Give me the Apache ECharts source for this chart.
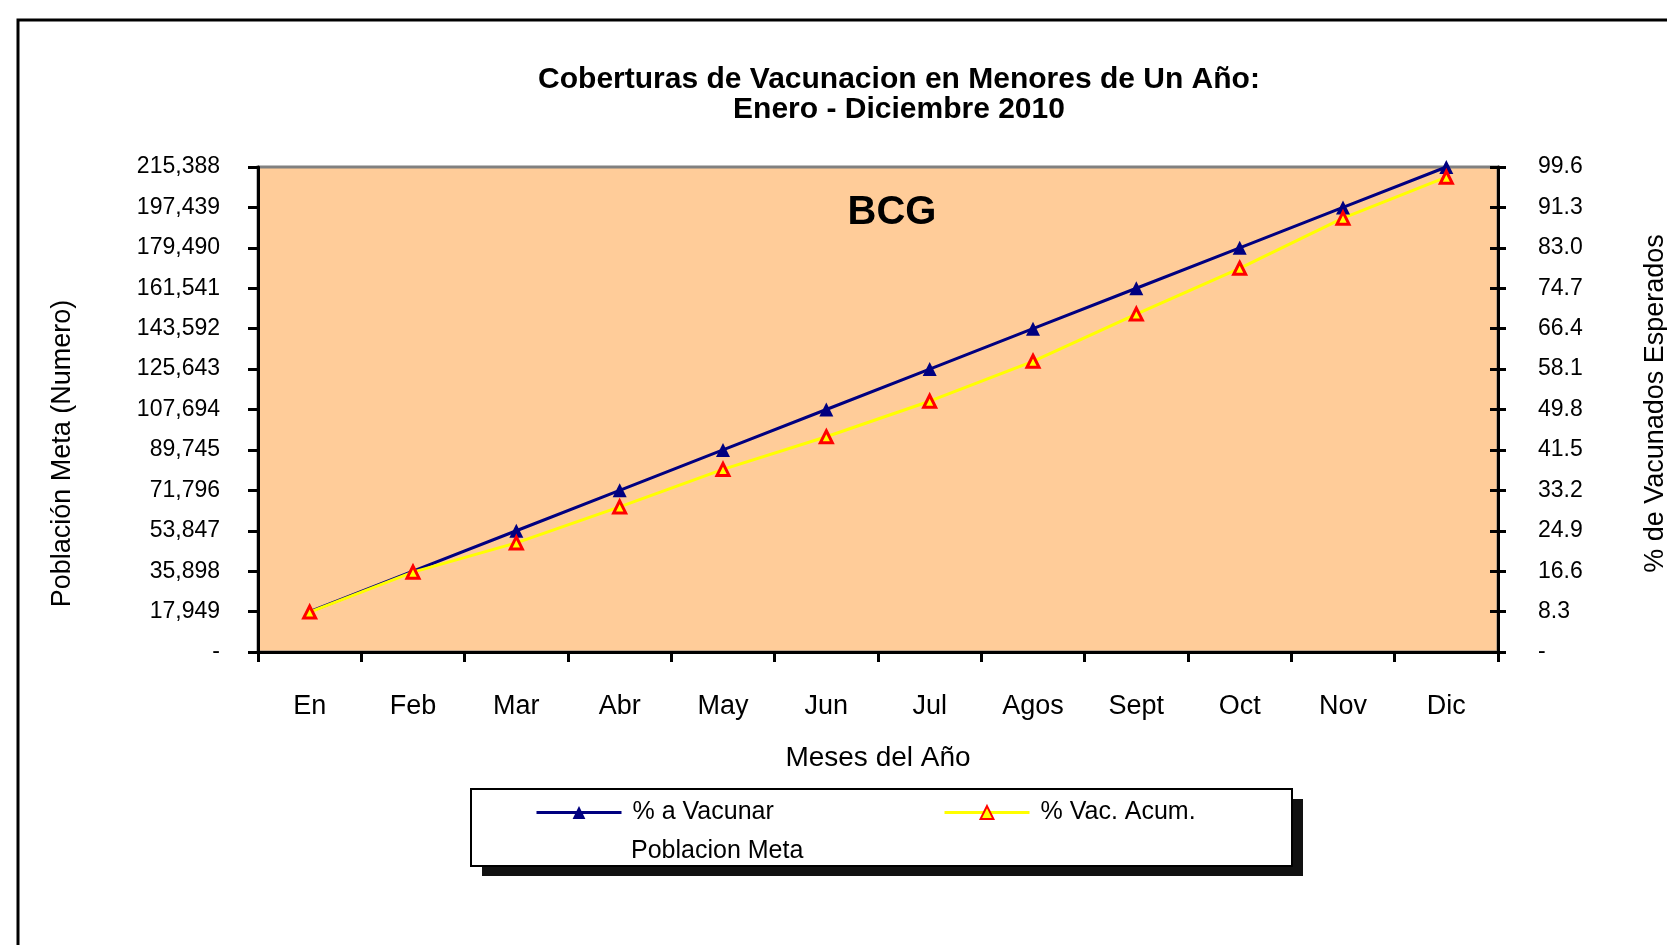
<!DOCTYPE html>
<html>
<head>
<meta charset="utf-8">
<title>Coberturas de Vacunacion BCG 2010</title>
<script src="https://cdn.jsdelivr.net/npm/echarts@6/dist/echarts.min.js"></script>
<style>
  html, body { margin: 0; padding: 0; background: #fff; }
  #chart { width: 1667px; height: 945px; }
</style>
</head>
<body>
<div id="chart"></div>
<script>
  // datos
  var meses = ['En', 'Feb', 'Mar', 'Abr', 'May', 'Jun', 'Jul', 'Agos', 'Sept', 'Oct', 'Nov', 'Dic']
  var aVacunar = [8.3, 16.6, 24.9, 33.2, 41.5, 49.8, 58.1, 66.4, 74.7, 83.0, 91.3, 99.6]
  var vacAcum = [8.2, 16.4, 22.4, 29.8, 37.5, 44.2, 51.5, 59.7, 69.4, 78.8, 89.1, 97.5]
  var poblacionMeta = [17949, 35898, 53847, 71796, 89745, 107694, 125643, 143592, 161541, 179490, 197439, 215388]
  var pobMax = 215388
  var pobInterval = 17949
  var pctMax = 99.6
  var pctInterval = 8.3

  var fuente = 'Liberation Sans, Arial, sans-serif'

  var chart = echarts.init(document.getElementById('chart'))

  var legendText = { fontFamily: fuente, fontSize: 25, color: '#000', padding: [0, 0, 0, 6] }

  var option = {
    backgroundColor: '#ffffff',
    animation: false,
    title: [
      {
        text: 'Coberturas de Vacunacion en Menores de Un Año:\nEnero - Diciembre 2010',
        left: 894,
        top: 60,
        textAlign: 'center',
        textStyle: {
          fontFamily: fuente,
          fontSize: 30,
          fontWeight: 'bold',
          color: '#000',
          lineHeight: 30
        }
      },
      {
        text: 'BCG',
        left: 887,
        top: 188,
        textAlign: 'center',
        textStyle: {
          fontFamily: fuente,
          fontSize: 40,
          fontWeight: 'bold',
          color: '#000'
        }
      }
    ],
    graphic: [
      {
        type: 'rect',
        z: -10,
        shape: { x: 18, y: 20, width: 1700, height: 1000 },
        style: { fill: 'none', stroke: '#000', lineWidth: 3 }
      },
      {
        // sombra de la leyenda
        type: 'rect',
        z: -6,
        shape: { x: 482, y: 799, width: 821, height: 77 },
        style: { fill: '#111' }
      },
      {
        type: 'rect',
        z: -5,
        shape: { x: 471, y: 789, width: 821, height: 77 },
        style: { fill: '#fff', stroke: '#000', lineWidth: 2 }
      }
    ],
    legend: [
      {
        data: ['% a Vacunar'],
        left: 535,
        top: 800,
        padding: 0,
        itemWidth: 85,
        itemHeight: 16,
        lineStyle: { width: 3 },
        textStyle: legendText
      },
      {
        data: ['% Vac. Acum.'],
        left: 943,
        top: 800,
        padding: 0,
        itemWidth: 85,
        itemHeight: 16,
        lineStyle: { width: 3 },
        textStyle: legendText
      },
      {
        data: [{ name: 'Poblacion Meta', icon: 'none' }],
        left: 535,
        top: 839,
        padding: 0,
        itemWidth: 85,
        itemHeight: 16,
        textStyle: legendText
      }
    ],
    grid: {
      left: 258,
      right: 169,
      top: 167,
      bottom: 293,
      outerBoundsMode: 'none',
      containLabel: false,
      show: true,
      backgroundColor: '#FFCC99',
      borderColor: '#808080',
      borderWidth: 3
    },
    xAxis: {
      type: 'category',
      data: meses,
      boundaryGap: true,
      name: 'Meses del Año',
      nameLocation: 'middle',
      nameGap: 92,
      nameTextStyle: { fontFamily: fuente, fontSize: 28, color: '#000' },
      axisLine: { lineStyle: { color: '#000', width: 3 } },
      axisTick: { show: true, length: 10, lineStyle: { color: '#000', width: 3 } },
      axisLabel: { margin: 41, fontFamily: fuente, fontSize: 27, color: '#000' },
      splitLine: { show: false }
    },
    yAxis: [
      {
        type: 'value',
        position: 'left',
        min: 0,
        max: pobMax,
        interval: pobInterval,
        name: 'Población Meta (Numero)',
        nameLocation: 'middle',
        nameRotate: 90,
        nameGap: 182,
        nameTextStyle: { fontFamily: fuente, fontSize: 27, color: '#000', padding: [0, 88, 0, 0] },
        axisLine: { show: true, lineStyle: { color: '#000', width: 3 } },
        axisTick: { show: true, length: 10, lineStyle: { color: '#000', width: 3 } },
        axisLabel: {
          margin: 38,
          padding: [4, 0, 0, 0],
          fontFamily: fuente,
          fontSize: 23,
          color: '#000',
          formatter: function (v) {
            return v === 0 ? '-' : Math.round(v).toLocaleString('en-US')
          }
        },
        splitLine: { show: false }
      },
      {
        type: 'value',
        position: 'right',
        min: 0,
        max: pctMax,
        interval: pctInterval,
        name: '% de Vacunados Esperados',
        nameLocation: 'middle',
        nameRotate: 90,
        nameGap: 144,
        nameTextStyle: { fontFamily: fuente, fontSize: 27, color: '#000', padding: [0, 0, 0, 12] },
        axisLine: { show: true, lineStyle: { color: '#000', width: 3 } },
        axisTick: { show: true, length: 8, lineStyle: { color: '#000', width: 3 } },
        axisLabel: {
          margin: 40,
          padding: [4, 0, 0, 0],
          fontFamily: fuente,
          fontSize: 23,
          color: '#000',
          formatter: function (v) {
            return v === 0 ? '-' : v.toFixed(1)
          }
        },
        splitLine: { show: false }
      },
      {
        // solo para las marcas hacia dentro del eje derecho
        type: 'value',
        position: 'right',
        min: 0,
        max: pctMax,
        interval: pctInterval,
        axisLine: { show: false },
        axisTick: { show: true, inside: true, length: 8, lineStyle: { color: '#000', width: 3 } },
        axisLabel: { show: false },
        splitLine: { show: false }
      }
    ],
    series: [
      {
        name: 'Poblacion Meta',
        type: 'line',
        yAxisIndex: 0,
        data: poblacionMeta,
        symbol: 'none',
        lineStyle: { opacity: 0 },
        itemStyle: { opacity: 0 },
        silent: true
      },
      {
        name: '% a Vacunar',
        type: 'line',
        yAxisIndex: 1,
        data: aVacunar,
        symbol: 'triangle',
        symbolSize: 14,
        lineStyle: { color: '#000080', width: 3 },
        itemStyle: { color: '#000080' }
      },
      {
        name: '% Vac. Acum.',
        type: 'line',
        yAxisIndex: 1,
        data: vacAcum,
        symbol: 'triangle',
        symbolSize: 12,
        lineStyle: { color: '#FFFF00', width: 3 },
        itemStyle: { color: '#FFFF00', borderColor: '#FF0000', borderWidth: 3 }
      }
    ]
  }

  chart.setOption(option)
</script>
</body>
</html>
